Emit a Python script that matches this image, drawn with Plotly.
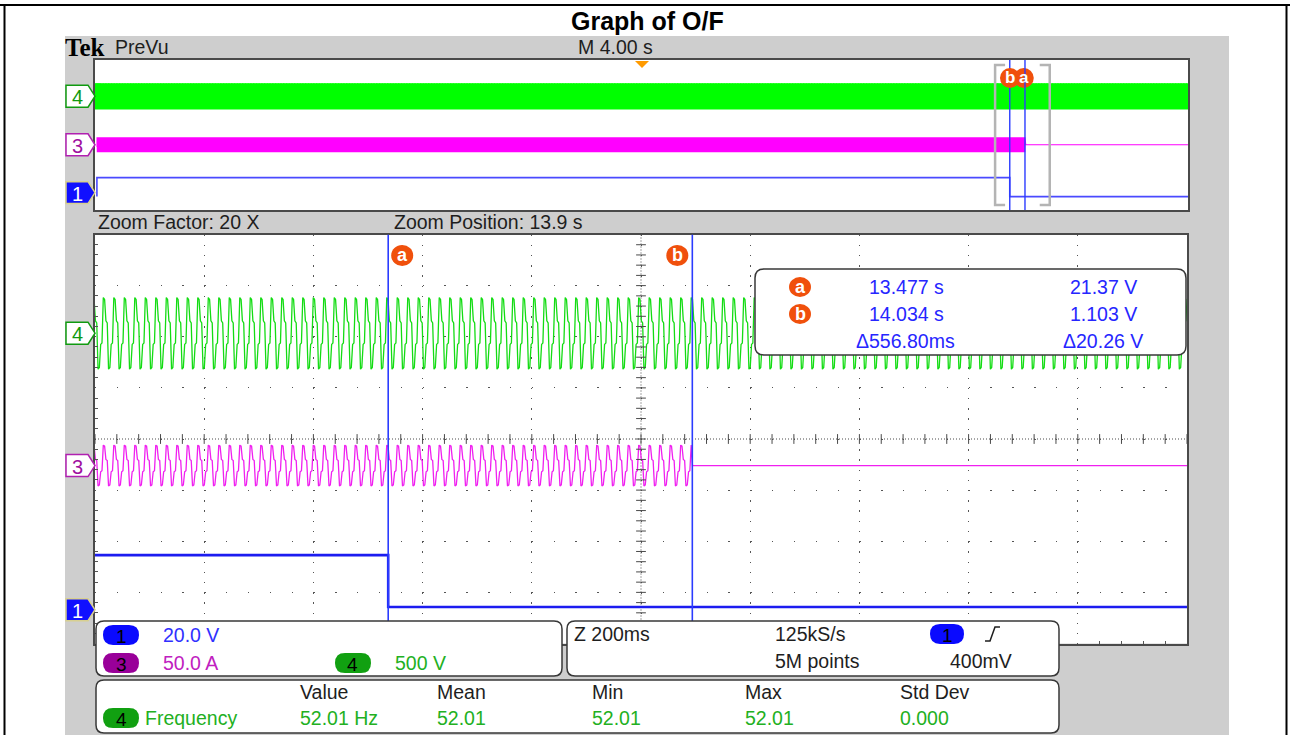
import numpy as np
import plotly.graph_objects as go

W, H = 1290, 735

# ---------------- readouts / values ----------------
title_text = "Graph of O/F"
ch_scale = {"1": 20.0, "3": 50.0, "4": 500.0}          # per division
ch_offset_div = {"1": -3.34, "3": -0.52, "4": 2.07}    # marker positions (div)
ch_scale_text = {"1": "20.0 V", "3": "50.0 A", "4": "500 V"}

record_span = 40.0        # 10 div x 4.00 s (trigger at centre)
zoom_span = 2.0           # 10 div x 200 ms
zoom_start = 12.94        # s, left edge of the zoom window
freq_hz = 52.01

cursor_names = ["a", "b"]
cursor_time = [13.477, 14.034]
cursor_time_text = ["13.477 s", "14.034 s"]
cursor_volt_text = ["21.37 V", "1.103 V"]
delta_time_text = "\u0394556.80ms"
delta_volt_text = "\u039420.26 V"

# one displayed cycle of each AC channel (8 samples per cycle, stepped look)
ch4_cycle = [348, 330, 120, 100, -352, -335, -110, -95]   # V
ch3_cycle = [20, 19, 6, 5, -20, -19, -6, -5]              # A
ch3_start, ch3_stop = -19.93, 14.034                      # s, current flowing
ch3_after = 0.0                                            # A after breaker opens

# channel 1 (breaker signal) as read
ch1_t = [-19.93, -19.93, 13.477, 13.477, 20.0]
ch1_v = [1.103, 21.37, 21.37, 1.103, 1.103]

meas_headers = ["Value", "Mean", "Min", "Max", "Std Dev"]
meas_values = ["52.01 Hz", "52.01", "52.01", "52.01", "0.000"]

# ---------------- geometry (pixels) ----------------
MX0, MX1, MY0, MY1 = 95, 1187, 234.5, 643.5    # zoom view
PX0, PX1, PY0, PY1 = 95, 1188, 60, 210         # PreVu strip

FONT = "Liberation Sans, Arial, sans-serif"
GRAY_BG = "#cecece"
GREEN = "#14dc14"
MAG = "#f020f0"
BLUE = "#1c1cf0"
CUR = "#2b3cff"
ORANGE = "#f0500c"


def px(x):
    return x / W


def py(y):
    return 1 - y / H


def main_ypx(d):
    return MY0 + (4 - d) / 8 * (MY1 - MY0)


def prev_ypx(d):
    return PY0 + (4 - d) / 8 * (PY1 - PY0)


def path(points, close=True):
    s = "M " + " L ".join(f"{px(x):.5f},{py(y):.5f}" for x, y in points)
    return s + (" Z" if close else "")


def rrect(x0, y0, x1, y1, r):
    def P(x, y):
        return f"{px(x):.5f},{py(y):.5f}"
    return (f"M {P(x0 + r, y0)} L {P(x1 - r, y0)} Q {P(x1, y0)} {P(x1, y0 + r)} "
            f"L {P(x1, y1 - r)} Q {P(x1, y1)} {P(x1 - r, y1)} L {P(x0 + r, y1)} "
            f"Q {P(x0, y1)} {P(x0, y1 - r)} L {P(x0, y0 + r)} Q {P(x0, y0)} {P(x0 + r, y0)} Z")


shapes = []
annots = []


def text(x, y, s, color="#1e1e1e", size=19.5, anchor="left", family=FONT, **kw):
    annots.append(dict(x=px(x), y=py(y), xref="paper", yref="paper", text=s,
                       showarrow=False, xanchor=anchor, yanchor="middle",
                       font=dict(family=family, size=size, color=color), **kw))


def pill(cx, cy, w, h, fill, label, tcolor="black"):
    shapes.append(dict(type="path", xref="paper", yref="paper", layer="above",
                       path=rrect(cx - w / 2, cy - h / 2, cx + w / 2, cy + h / 2, h / 2),
                       fillcolor=fill, line=dict(width=0)))
    text(cx, cy + 1, label, color=tcolor, size=19, anchor="center")


def tag(y, color, fill, label, tcolor):
    shapes.append(dict(type="path", xref="paper", yref="paper", layer="above",
                       path=path([(66, y - 11), (88, y - 11), (95, y), (88, y + 11), (66, y + 11)]),
                       fillcolor=fill, line=dict(color=color, width=1.5)))
    text(77, y + 1, label, color=tcolor, size=20, anchor="center")


# ---------------- background ----------------
for x0, y0, x1, y1 in [(0, 0, 65, H), (1229, 0, W, H), (0, 0, W, 36)]:
    shapes.append(dict(type="rect", xref="paper", yref="paper", layer="below",
                       x0=px(x0), x1=px(x1), y0=py(y1), y1=py(y0),
                       fillcolor="white", line=dict(width=0)))
for x0, y0, x1, y1 in [(0, 5, W, 5), (4.5, 5, 4.5, H), (1286.5, 5, 1286.5, H)]:
    shapes.append(dict(type="line", xref="paper", yref="paper", layer="above",
                       x0=px(x0), x1=px(x1), y0=py(y0), y1=py(y1),
                       line=dict(color="black", width=2)))

# ---------------- waveforms ----------------
spc = len(ch4_cycle)
dt = 1.0 / (freq_hz * spc)
t = np.arange(-record_span / 2, record_span / 2, dt)
ch4 = np.resize(np.array(ch4_cycle, float), t.size)
ch3 = np.resize(np.array(ch3_cycle, float), t.size)
ch3 = np.where(t < ch3_start, np.nan, np.where(t > ch3_stop, ch3_after, ch3))

ch4_div = ch_offset_div["4"] + ch4 / ch_scale["4"]
ch3_div = ch_offset_div["3"] + ch3 / ch_scale["3"]
ch1_div = [ch_offset_div["1"] + v / ch_scale["1"] for v in ch1_v]

win = (t > zoom_start - 0.05) & (t < zoom_start + zoom_span + 0.05)

fig = go.Figure()
# PreVu strip
fig.add_trace(go.Scatter(x=t, y=ch4_div, xaxis="x2", yaxis="y2", mode="lines",
                         line=dict(color="#00ff00", width=1.2), hoverinfo="skip"))
fig.add_trace(go.Scatter(x=t, y=ch3_div, xaxis="x2", yaxis="y2", mode="lines",
                         line=dict(color="#ff00ff", width=1.2), hoverinfo="skip"))
fig.add_trace(go.Scatter(x=ch1_t, y=ch1_div, xaxis="x2", yaxis="y2", mode="lines",
                         line=dict(color="#4a4aff", width=1.6), hoverinfo="skip"))
# zoom view
fig.add_trace(go.Scatter(x=t[win], y=ch4_div[win], xaxis="x", yaxis="y", mode="lines",
                         line=dict(color=GREEN, width=1.3), hoverinfo="skip"))
fig.add_trace(go.Scatter(x=t[win], y=ch3_div[win], xaxis="x", yaxis="y", mode="lines",
                         line=dict(color=MAG, width=1.3), hoverinfo="skip"))
fig.add_trace(go.Scatter(x=ch1_t, y=ch1_div, xaxis="x", yaxis="y", mode="lines",
                         line=dict(color=BLUE, width=2.6), hoverinfo="skip"))

# centre cross-hair ticks of the graticule
tc = zoom_start + zoom_span / 2
yt = np.arange(-4, 4.001, 0.2)
xt = zoom_start + np.arange(0, 50.5) * zoom_span / 50
fig.add_trace(go.Scatter(x=[tc] * len(yt), y=yt, mode="markers", xaxis="x", yaxis="y",
                         marker=dict(symbol="line-ew", size=7, line=dict(width=1, color="#4a4a4a")),
                         hoverinfo="skip"))
fig.add_trace(go.Scatter(x=xt, y=[0] * len(xt), mode="markers", xaxis="x", yaxis="y",
                         marker=dict(symbol="line-ns", size=7, line=dict(width=1, color="#4a4a4a")),
                         hoverinfo="skip"))
for d in [dict(x0=tc, x1=tc, y0=-4, y1=4), dict(x0=zoom_start, x1=zoom_start + zoom_span, y0=0, y1=0)]:
    shapes.append(dict(type="line", xref="x", yref="y", layer="below",
                       line=dict(color="#4a4a4a", width=1, dash="1px,2px"), **d))

# ---------------- cursors ----------------
lab_off = [14, -15]
for name, ct, off in zip(cursor_names, cursor_time, lab_off):
    shapes.append(dict(type="line", xref="x", yref="y", x0=ct, x1=ct, y0=-4, y1=4,
                       line=dict(color=CUR, width=1.6), layer="above"))
    shapes.append(dict(type="line", xref="x2", yref="y2", x0=ct, x1=ct, y0=-4, y1=4,
                       line=dict(color=CUR, width=1.4), layer="above"))
    shapes.append(dict(type="circle", xref="x", yref="paper", xsizemode="pixel", xanchor=ct,
                       x0=off - 11, x1=off + 11, y0=py(266), y1=py(245),
                       fillcolor=ORANGE, line=dict(width=0), layer="above"))
    annots.append(dict(x=ct, xref="x", xshift=off, y=py(255), yref="paper", text=f"<b>{name}</b>",
                       showarrow=False, xanchor="center", yanchor="middle",
                       font=dict(family=FONT, size=18, color="white")))
    shapes.append(dict(type="circle", xref="x2", yref="paper", xsizemode="pixel", xanchor=ct,
                       x0=off - 10, x1=off + 10, y0=py(88), y1=py(68),
                       fillcolor=ORANGE, line=dict(width=0), layer="above"))
    annots.append(dict(x=ct, xref="x2", xshift=off, y=py(78), yref="paper", text=f"<b>{name}</b>",
                       showarrow=False, xanchor="center", yanchor="middle",
                       font=dict(family=FONT, size=17, color="white")))

# zoom-window brackets on the PreVu strip
serif = 10 * record_span / (PX1 - PX0)
for xe, s in [(zoom_start, serif), (zoom_start + zoom_span, -serif)]:
    shapes.append(dict(type="path", xref="x2", yref="paper", layer="above",
                       path=f"M {xe + s},{py(65)} L {xe},{py(65)} L {xe},{py(205)} L {xe + s},{py(205)}",
                       line=dict(color="#b4b4b4", width=2.5)))

# trigger marker
shapes.append(dict(type="path", xref="paper", yref="paper", layer="above",
                   path=path([(635, 61), (649, 61), (642, 68)]), fillcolor="#ff9a00",
                   line=dict(width=0)))

# ---------------- channel tags ----------------
for ypos_fn, y1fix in ((main_ypx, 0), (prev_ypx, -5)):
    tag(ypos_fn(ch_offset_div["4"]), "#109a10", "white", "4", "#109a10")
    tag(ypos_fn(ch_offset_div["3"]), "#b020b0", "white", "3", "#a010a0")
    tag(ypos_fn(ch_offset_div["1"]) + y1fix, "#d8d090", "#1010ff", "1", "white")

# ---------------- header texts ----------------
text(647, 21, f"<b>{title_text}</b>", color="black", size=25, anchor="center")
text(63, 47, "<b>Tek</b>", color="black", size=25, family="Liberation Serif, Times New Roman, serif")
text(113, 47, "PreVu", size=19.5)
text(615, 47, "M 4.00 s", size=19.5, anchor="center")
text(96, 222, "Zoom Factor: 20 X", size=19.5)
text(392, 222, "Zoom Position: 13.9 s", size=19.5)

# ---------------- cursor readout box ----------------
shapes.append(dict(type="path", xref="paper", yref="paper", layer="above",
                   path=rrect(755, 269, 1186, 355, 9), fillcolor="white",
                   line=dict(color="#383838", width=1.5)))
for i, (name, tt, vt) in enumerate(zip(cursor_names, cursor_time_text, cursor_volt_text)):
    yy = 287 + 27 * i
    shapes.append(dict(type="circle", xref="paper", yref="paper", layer="above",
                       x0=px(789), x1=px(811), y0=py(yy + 10), y1=py(yy - 10),
                       fillcolor=ORANGE, line=dict(width=0)))
    text(800, yy, f"<b>{name}</b>", color="white", size=18, anchor="center")
    text(906, yy, tt, color="#2626ff", anchor="center")
    text(1103, yy, vt, color="#2626ff", anchor="center")
text(905, 341, delta_time_text, color="#2626ff", anchor="center")
text(1103, 341, delta_volt_text, color="#2626ff", anchor="center")

# ---------------- bottom info boxes ----------------
for x0, y0, x1, y1 in [(96, 621, 562, 676), (567, 621, 1059, 676), (96, 680, 1059, 733)]:
    shapes.append(dict(type="path", xref="paper", yref="paper", layer="above",
                       path=rrect(x0, y0, x1, y1, 8), fillcolor="white",
                       line=dict(color="#383838", width=1.5)))
pill(121, 635, 36, 20, "#0a0aff", "1")
text(161, 635, ch_scale_text["1"], color="#3030ff")
pill(121, 663, 36, 20, "#990099", "3")
text(161, 663, ch_scale_text["3"], color="#c020c0")
pill(353, 663, 36, 20, "#11a011", "4")
text(393, 663, ch_scale_text["4"], color="#22b022")

text(572, 634, "Z 200ms")
text(773, 634, "125kS/s")
text(773, 661, "5M points")
pill(947, 634, 34, 20, "#0a0aff", "1")
shapes.append(dict(type="path", xref="paper", yref="paper", layer="above",
                   path=path([(985, 641), (990, 641), (995, 627), (1000, 627)], close=False),
                   line=dict(color="#1e1e1e", width=1.5)))
text(948, 661, "400mV")

hx = [298, 435, 590, 743, 898]
for x, h_, v in zip(hx, meas_headers, meas_values):
    text(x, 692, h_)
    text(x, 718, v, color="#22b022")
pill(121, 718, 36, 20, "#11a011", "4")
text(143, 718, "Frequency", color="#22b022")

# ---------------- layout ----------------
common = dict(showticklabels=False, zeroline=False, showline=True, mirror=True,
              linecolor="#4a4a4a", linewidth=2, fixedrange=True)
fig.update_layout(
    width=W, height=H, autosize=False, margin=dict(l=0, r=0, t=0, b=0),
    paper_bgcolor=GRAY_BG, plot_bgcolor="white", showlegend=False,
    xaxis=dict(domain=[px(MX0), px(MX1)], range=[zoom_start, zoom_start + zoom_span],
               anchor="y", showgrid=True, gridcolor="#555555", gridwidth=1.3,
               griddash="1.4px,8.82px", tick0=zoom_start, dtick=zoom_span / 10, ticks="",
               minor=dict(tick0=zoom_start, dtick=zoom_span / 50, ticks="inside", ticklen=3,
                          tickcolor="#555555", showgrid=False), **common),
    yaxis=dict(domain=[py(MY1), py(MY0)], range=[-4, 4], anchor="x", showgrid=True,
               gridcolor="#555555", gridwidth=1.3, griddash="1.4px,20.44px", dtick=1, ticks="",
               minor=dict(dtick=0.2, ticks="inside", ticklen=3, tickcolor="#555555", showgrid=False),
               **common),
    xaxis2=dict(domain=[px(PX0), px(PX1)], range=[-record_span / 2, record_span / 2],
                anchor="y2", showgrid=False, ticks="", **common),
    yaxis2=dict(domain=[py(PY1), py(PY0)], range=[-4, 4], anchor="x2", showgrid=False,
                ticks="", **common),
    shapes=shapes, annotations=annots,
)

fig.write_html("out.html", config={"displayModeBar": False},
               post_script="document.body.style.margin='0';document.body.style.overflow='hidden';")
